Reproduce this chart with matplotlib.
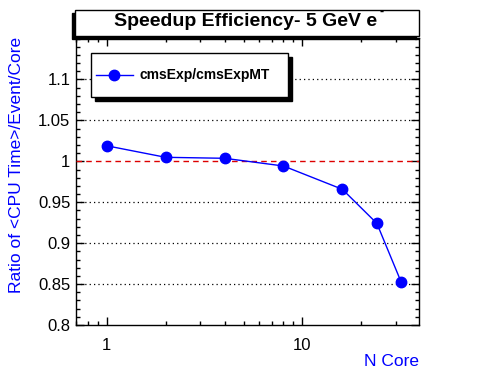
import matplotlib
matplotlib.use('Agg')
import matplotlib.pyplot as plt
from matplotlib.patches import Rectangle
from matplotlib.lines import Line2D
from matplotlib.ticker import MultipleLocator, LogLocator, FixedFormatter, FixedLocator

plt.rcParams['font.family'] = ['Liberation Sans', 'DejaVu Sans']

ncore = [1, 2, 4, 8, 16, 24, 32]
ratio = [1.019, 1.0049, 1.0037, 0.9943, 0.9658, 0.9242, 0.852]
series_name = 'cmsExp/cmsExpMT'
title = 'Speedup Efficiency- 5 GeV e'

W, H = 496, 372
fig = plt.figure(figsize=(W/100, H/100), dpi=100)

def fx(x):
    return x/W

def fy(y):
    return 1 - y/H

ax = fig.add_axes([fx(76), fy(325), fx(419)-fx(76), fy(37.5)-fy(325)])

ax.plot(ncore, ratio, '-o', color='blue', lw=1, ms=7.5, zorder=5)
ax.axhline(1.0, color='#dd0000', ls=(0, (4, 3)), lw=1, zorder=3)

ax.set_xscale('log')
ax.set_xlim(0.697, 39.4)
ax.set_ylim(0.8, 1.1513)

ax.xaxis.set_major_locator(FixedLocator([1, 10]))
ax.xaxis.set_major_formatter(FixedFormatter(['1', '10']))
ax.xaxis.set_minor_locator(LogLocator(base=10, subs=range(2, 10)))
ax.xaxis.set_minor_formatter(plt.NullFormatter())

ax.yaxis.set_minor_locator(MultipleLocator(0.01))
ax.set_yticks([0.8, 0.85, 0.9, 0.95, 1.0, 1.05, 1.1])
ax.set_yticklabels(['0.8', '0.85', '0.9', '0.95', '1', '1.05', '1.1'])

ax.tick_params(which='both', direction='in', top=True, right=True, labelsize=12, width=1)
ax.tick_params(which='major', length=6)
ax.tick_params(which='minor', length=3.2)
ax.tick_params(axis='x', pad=9)
ax.tick_params(axis='y', pad=4)

for yv in [0.85, 0.9, 0.95, 1.05, 1.1]:
    ax.axhline(yv, color='black', ls=(0, (1, 2.5)), lw=0.9, zorder=2)

for s in ax.spines.values():
    s.set_linewidth(1)

fig.text(fx(17), fy(37), 'Ratio of <CPU Time>/Event/Core', color='blue', fontsize=12.5,
         rotation=90, ha='center', va='top')
fig.text(fx(419), fy(362), 'N Core', color='blue', fontsize=12.5, ha='right', va='center')

# title box with shadow
fig.patches.append(Rectangle((fx(72), fy(39)), fx(344), 26/H, transform=fig.transFigure,
                             facecolor='black', edgecolor='black', zorder=10))
fig.patches.append(Rectangle((fx(75), fy(36)), fx(344), 26/H, transform=fig.transFigure,
                             facecolor='white', edgecolor='black', lw=1, zorder=11))
t = fig.text(fx(246), fy(22), title, fontsize=14, fontweight='bold', ha='center', va='center', zorder=12)
fig.canvas.draw()
bb = t.get_window_extent()
fig.text((bb.x1 + 1.5)/W, fy(12), '-', fontsize=9, fontweight='bold', ha='left', va='center', zorder=12)

# legend box with shadow
fig.patches.append(Rectangle((fx(95), fy(101)), fx(197), 44/H, transform=fig.transFigure,
                             facecolor='black', edgecolor='black', zorder=10))
fig.patches.append(Rectangle((fx(91), fy(97)), fx(197), 44/H, transform=fig.transFigure,
                             facecolor='white', edgecolor='black', lw=1, zorder=11))
fig.lines.append(Line2D([fx(96), fx(133)], [fy(75), fy(75)], transform=fig.transFigure,
                        color='blue', lw=1, zorder=12))
fig.lines.append(Line2D([fx(114)], [fy(75)], transform=fig.transFigure, marker='o',
                        color='blue', ms=7.5, zorder=13))
fig.text(fx(140), fy(75), series_name, fontsize=10, fontweight='bold', ha='left', va='center', zorder=12)

fig.savefig('out.png', dpi=100)
